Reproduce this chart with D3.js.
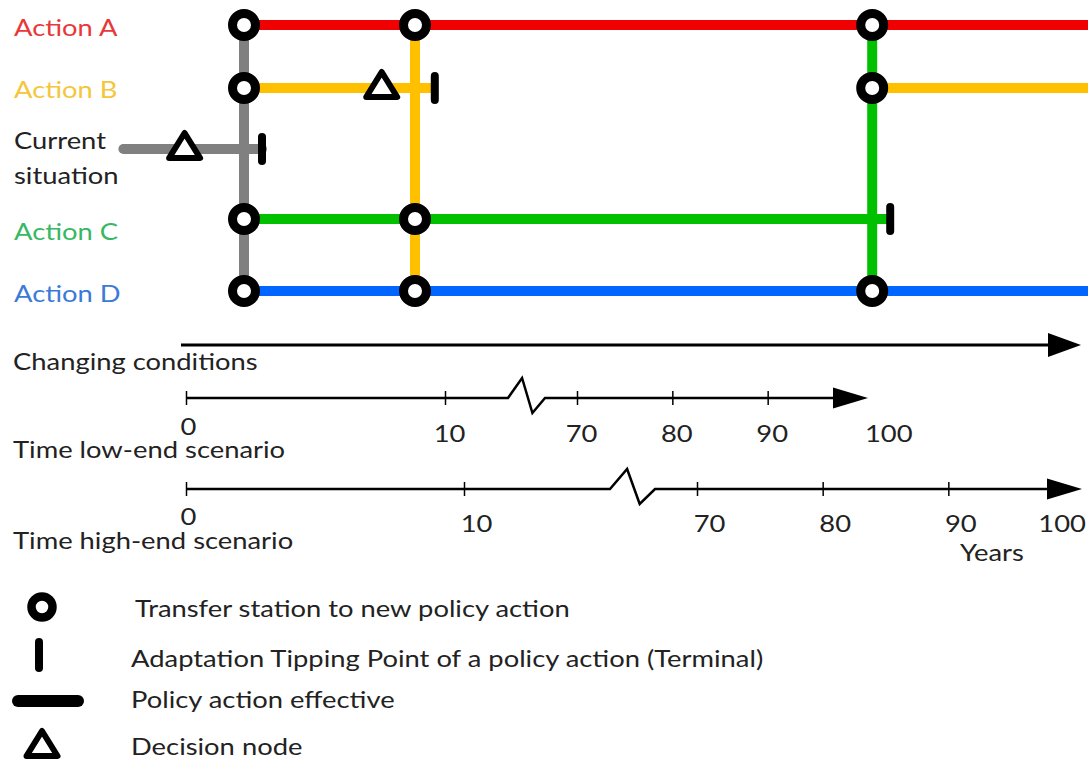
<!DOCTYPE html>
<html>
<head>
<meta charset="utf-8">
<script src="https://cdn.jsdelivr.net/npm/d3@7"></script>
<style>
  html, body { margin: 0; padding: 0; background: #fff; }
  svg { display: block; font-family: Lato, "Open Sans", sans-serif; }
</style>
</head>
<body>
<div id="chart"></div>
<script>
// adaptation pathways metro map

const rows = ['Action A', 'Action B', 'Current situation', 'Action C', 'Action D'];
const rowLabels = [['Action A'], ['Action B'], ['Current', 'situation'], ['Action C'], ['Action D']];
const lineColors = ['#f00000', '#ffc000', '#808080', '#00c000', '#0066ff'];
const textColors = ['#e8383a', '#f4c63c', '#222222', '#36b864', '#3a7bd8'];

// conditions scale units (0 = start of "changing conditions" arrow, 100 = its tip)
const effective = [
    ['Action A', 7, 101],
    ['Action B', 7, 28.2],
    ['Action B', 76.8, 101],
    ['Current situation', -6.4, 9],
    ['Action C', 7, 78.8],
    ['Action D', 7, 101]
];
const transfers = [[7, 'Current situation'], [26, 'Action B'], [76.8, 'Action C']];
const stations = [
    [7, 'Action A'], [7, 'Action B'], [7, 'Action C'], [7, 'Action D'],
    [26, 'Action A'], [26, 'Action C'], [26, 'Action D'],
    [76.8, 'Action A'], [76.8, 'Action B'], [76.8, 'Action D']
];
const decisions = [[0.4, 'Current situation'], [22.3, 'Action B']];
const tippingPoints = [[9, 'Current situation'], [28.2, 'Action B'], [78.8, 'Action C']];

// time axes
const earlyTicks = [0, 10];
const lateTicks = [70, 80, 90];
const endLabel = 100;
const scenarios = ['Time low-end scenario', 'Time high-end scenario'];

const legendItems = [
    'Transfer station to new policy action',
    'Adaptation Tipping Point of a policy action (Terminal)',
    'Policy action effective',
    'Decision node'
];

const width = 1088, height = 765;
const svg = d3.select('#chart').append('svg')
    .attr('width', width)
    .attr('height', height);

const x = d3.scaleLinear().domain([0, 100]).range([181, 1081]);
const y = d3.scaleOrdinal().domain(rows).range([25, 88, 149, 219, 291]);
const labelY = d3.scaleOrdinal().domain(rows).range([36, 98, 149, 240, 302]);
const lineColor = d3.scaleOrdinal().domain(rows).range(lineColors);
const textColor = d3.scaleOrdinal().domain(rows).range(textColors);

const fontSize = 24;
const stretchK = 1.14;
const triPath = 'M0,-16 L15.5,9 L-15.5,9 Z';

// widen glyphs a little, the source font is broader than Lato
function stretch(sel) {
    sel.each(function () {
        const w = this.getComputedTextLength();
        d3.select(this)
            .attr('textLength', w * stretchK)
            .attr('lengthAdjust', 'spacingAndGlyphs');
    });
}

// row labels
rows.forEach((r, i) => {
    rowLabels[i].forEach((line, j) => {
        svg.append('text')
            .attr('class', 'lbl')
            .attr('x', 14)
            .attr('y', labelY(r) + j * 35)
            .attr('font-size', fontSize)
            .attr('fill', textColor(r))
            .text(line);
    });
});

const map = svg.append('g');

// horizontal (effective) lines
map.selectAll('.effective')
    .data(effective)
    .join('line')
    .attr('x1', d => x(d[1]))
    .attr('x2', d => x(d[2]))
    .attr('y1', d => y(d[0]))
    .attr('y2', d => y(d[0]))
    .attr('stroke', d => lineColor(d[0]))
    .attr('stroke-width', 10)
    .attr('stroke-linecap', d => d[1] < 0 ? 'round' : 'butt');

// vertical transfer lines
map.selectAll('.transfer')
    .data(transfers)
    .join('line')
    .attr('x1', d => x(d[0]))
    .attr('x2', d => x(d[0]))
    .attr('y1', y('Action A'))
    .attr('y2', y('Action D'))
    .attr('stroke', d => lineColor(d[1]))
    .attr('stroke-width', 10);

// transfer stations
map.selectAll('.station')
    .data(stations)
    .join('circle')
    .attr('cx', d => x(d[0]))
    .attr('cy', d => y(d[1]))
    .attr('r', 11.5)
    .attr('fill', '#fff')
    .attr('stroke', '#000')
    .attr('stroke-width', 9);

// decision nodes
map.selectAll('.decision')
    .data(decisions)
    .join('path')
    .attr('d', triPath)
    .attr('transform', d => `translate(${x(d[0])},${y(d[1])})`)
    .attr('fill', '#fff')
    .attr('stroke', '#000')
    .attr('stroke-width', 6)
    .attr('stroke-linejoin', 'round');

// adaptation tipping points
map.selectAll('.terminal')
    .data(tippingPoints)
    .join('line')
    .attr('x1', d => x(d[0]))
    .attr('x2', d => x(d[0]))
    .attr('y1', d => y(d[1]) - 12)
    .attr('y2', d => y(d[1]) + 12)
    .attr('stroke', '#000')
    .attr('stroke-width', 8)
    .attr('stroke-linecap', 'round');

// arrow helper
function arrowHead(g, tipX, cy, len, half) {
    g.append('path')
        .attr('d', `M${tipX},${cy} L${tipX - len},${cy - half} L${tipX - len},${cy + half} Z`)
        .attr('fill', '#000');
}

// changing conditions
const cy0 = 345;
svg.append('line')
    .attr('x1', x(0)).attr('x2', x(100) - 25)
    .attr('y1', cy0).attr('y2', cy0)
    .attr('stroke', '#000').attr('stroke-width', 3);
arrowHead(svg, x(100), cy0, 33, 12);
svg.append('text')
    .attr('class', 'lbl')
    .attr('x', 13).attr('y', 370)
    .attr('font-size', fontSize).attr('fill', '#222')
    .text('Changing conditions');

// time scenario axes
const axesCfg = [
    { name: scenarios[0], cy: 398, early: [186, 445], late: [577, 863], brk: [508, 545], tip: 868, labelY: 442, shift: 4, endAnchor: 'start', endDx: 2, titleY: 458 },
    { name: scenarios[1], cy: 489, early: [186, 464], late: [697, 1074], brk: [610, 655], tip: 1082, labelY: 532, shift: 12, endAnchor: 'end', endDx: 12, titleY: 549 }
];

axesCfg.forEach(cfg => {
    const g = svg.append('g');
    const xe = d3.scaleLinear().domain([0, 10]).range(cfg.early);
    const xl = d3.scaleLinear().domain([70, 100]).range(cfg.late);
    const [b0, b1] = cfg.brk;
    const bw = b1 - b0;
    const pts = [
        [xe(0), cfg.cy], [b0, cfg.cy],
        [b0 + bw * 0.38, cfg.cy - 20],
        [b0 + bw * 0.66, cfg.cy + 15],
        [b1, cfg.cy], [cfg.tip - 30, cfg.cy]
    ];
    g.append('path')
        .attr('d', d3.line()(pts))
        .attr('fill', 'none')
        .attr('stroke', '#000')
        .attr('stroke-width', 2.5)
        .attr('stroke-linejoin', 'miter');
    arrowHead(g, cfg.tip, cfg.cy, 35, 10.5);

    // ticks via d3 axes, labels restyled
    const styleAxis = sel => {
        sel.select('.domain').remove();
        sel.selectAll('.tick line').attr('stroke', '#000').attr('stroke-width', 1.5);
        sel.selectAll('.tick text')
            .attr('class', 'lbl')
            .attr('y', d => cfg.labelY - cfg.cy + 7 - (d === 0 ? 7 : 0))
            .attr('dy', 0)
            .attr('dx', d => d === 0 ? 2 : cfg.shift)
            .attr('font-family', 'Lato, "Open Sans", sans-serif')
            .attr('font-size', fontSize)
            .attr('fill', '#222');
    };
    g.append('g')
        .attr('transform', `translate(0,${cfg.cy - 7})`)
        .call(d3.axisBottom(xe).tickValues(earlyTicks).tickSize(14).tickFormat(d3.format('d')))
        .call(styleAxis);
    g.append('g')
        .attr('transform', `translate(0,${cfg.cy - 7})`)
        .call(d3.axisBottom(xl).tickValues(lateTicks).tickSize(14).tickFormat(d3.format('d')))
        .call(styleAxis);

    g.append('text')
        .attr('class', 'lbl')
        .attr('x', xl(endLabel) + cfg.endDx)
        .attr('y', cfg.labelY)
        .attr('text-anchor', cfg.endAnchor)
        .attr('font-size', fontSize).attr('fill', '#222')
        .text(endLabel);

    svg.append('text')
        .attr('class', 'lbl')
        .attr('x', 13).attr('y', cfg.titleY)
        .attr('font-size', fontSize).attr('fill', '#222')
        .text(cfg.name);
});

svg.append('text')
    .attr('class', 'lbl')
    .attr('x', 960).attr('y', 561)
    .attr('font-size', fontSize).attr('fill', '#222')
    .text('Years');

// legend
const legendY = [607, 655, 701, 745];
const textYs = [617, 667, 708, 755];
const lg = svg.append('g');
lg.append('circle')
    .attr('cx', 42).attr('cy', legendY[0]).attr('r', 10.5)
    .attr('fill', '#fff').attr('stroke', '#000').attr('stroke-width', 8.5);
lg.append('line')
    .attr('x1', 39).attr('x2', 39)
    .attr('y1', legendY[1] - 13).attr('y2', legendY[1] + 13)
    .attr('stroke', '#000').attr('stroke-width', 8).attr('stroke-linecap', 'round');
lg.append('line')
    .attr('x1', 18).attr('x2', 78)
    .attr('y1', legendY[2]).attr('y2', legendY[2])
    .attr('stroke', '#000').attr('stroke-width', 12).attr('stroke-linecap', 'round');
lg.append('path')
    .attr('d', triPath)
    .attr('transform', `translate(42,${legendY[3] + 2})`)
    .attr('fill', '#fff').attr('stroke', '#000').attr('stroke-width', 6)
    .attr('stroke-linejoin', 'round');

lg.selectAll('.legend-text')
    .data(legendItems)
    .join('text')
    .attr('class', 'lbl')
    .attr('x', (d, i) => i === 0 ? 135 : 131)
    .attr('y', (d, i) => textYs[i])
    .attr('font-size', fontSize)
    .attr('fill', '#222')
    .text(d => d);

svg.selectAll('text.lbl').call(stretch);
</script>
</body>
</html>
